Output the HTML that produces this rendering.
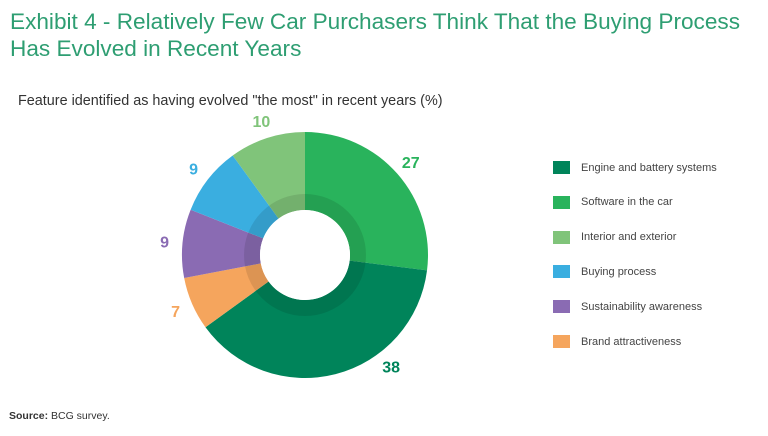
<!DOCTYPE html>
<html><head><meta charset="utf-8"><style>
body{margin:0;width:768px;height:436px;background:#fff;font-family:"Liberation Sans",sans-serif;overflow:hidden;position:relative}
h1{position:absolute;left:10px;top:8px;margin:0;font-weight:normal;font-size:22.6px;line-height:27px;color:#2e9e72}
.sub{position:absolute;left:18px;top:93px;font-size:14.4px;color:#333}
.src{position:absolute;left:9px;top:410px;font-size:10.5px;color:#333}
.leg{position:absolute;left:553px;font-size:11px;color:#444;display:flex;align-items:center}
.leg span.sw{width:17px;height:13px;margin-right:11px;display:inline-block}
</style></head><body>
<h1>Exhibit 4 - Relatively Few Car Purchasers Think That the Buying Process<br>Has Evolved in Recent Years</h1>
<div class="sub">Feature identified as having evolved "the most" in recent years (%)</div>
<svg id="chart" width="768" height="436" style="position:absolute;left:0;top:0"></svg>
<div id="legend"></div>
<div class="src"><b>Source:</b> BCG survey.</div>
<script>
const categories=["Software in the car","Engine and battery systems","Brand attractiveness","Sustainability awareness","Buying process","Interior and exterior"];
const values=[27,38,7,9,9,10];
const colors=["#29b35c","#00845a","#f5a55d","#8a6bb3","#3aaee0","#80c47a"];
const legendOrder=[1,0,5,4,3,2];
const svg=document.getElementById('chart');
const NS="http://www.w3.org/2000/svg";
const cx=305,cy=255,R=123,r=45,rs=61;
const total=values.reduce((a,b)=>a+b,0);
function pt(rad,a){return [cx+rad*Math.sin(a),cy-rad*Math.cos(a)];}
let acc=0;
values.forEach((v,i)=>{
  const a0=acc/total*2*Math.PI, a1=(acc+v)/total*2*Math.PI; acc+=v;
  const lg=(a1-a0)>Math.PI?1:0;
  const [x0,y0]=pt(R,a0),[x1,y1]=pt(R,a1),[x2,y2]=pt(r,a1),[x3,y3]=pt(r,a0);
  const p=document.createElementNS(NS,'path');
  p.setAttribute('d',`M${x0},${y0}A${R},${R} 0 ${lg} 1 ${x1},${y1}L${x2},${y2}A${r},${r} 0 ${lg} 0 ${x3},${y3}Z`);
  p.setAttribute('fill',colors[i]);
  
  
  svg.appendChild(p);
  const frac=(a1-a0)>Math.PI*0.6?0.33:0.5;
  const am=a0+(a1-a0)*frac;
  const [lx,ly]=pt(R+18,am);
  const t=document.createElementNS(NS,'text');
  t.setAttribute('x',lx);t.setAttribute('y',ly+6);
  t.setAttribute('text-anchor','middle');
  t.setAttribute('font-size','16');t.setAttribute('font-weight','bold');
  t.setAttribute('fill',colors[i]);
  t.textContent=v;
  
  
  svg.appendChild(t);
});
const sh=document.createElementNS(NS,'circle');
sh.setAttribute('cx',cx);sh.setAttribute('cy',cy);sh.setAttribute('r',(rs+r)/2);
sh.setAttribute('fill','none');sh.setAttribute('stroke','rgba(0,0,0,0.1)');sh.setAttribute('stroke-width',rs-r);


svg.appendChild(sh);
const hole=document.createElementNS(NS,'circle');
hole.setAttribute('cx',cx);hole.setAttribute('cy',cy);hole.setAttribute('r',r);hole.setAttribute('fill','#fff');


svg.appendChild(hole);
const lg=document.getElementById('legend');
legendOrder.forEach((ci,k)=>{
  const d=document.createElement('div');
  d.className='leg';d.style.top=(161+k*34.8)+'px';
  d.innerHTML=`<span class="sw" style="background:${colors[ci]}"></span>${categories[ci]}`;
  
  
  lg.appendChild(d);
});
</script>
</body></html>
